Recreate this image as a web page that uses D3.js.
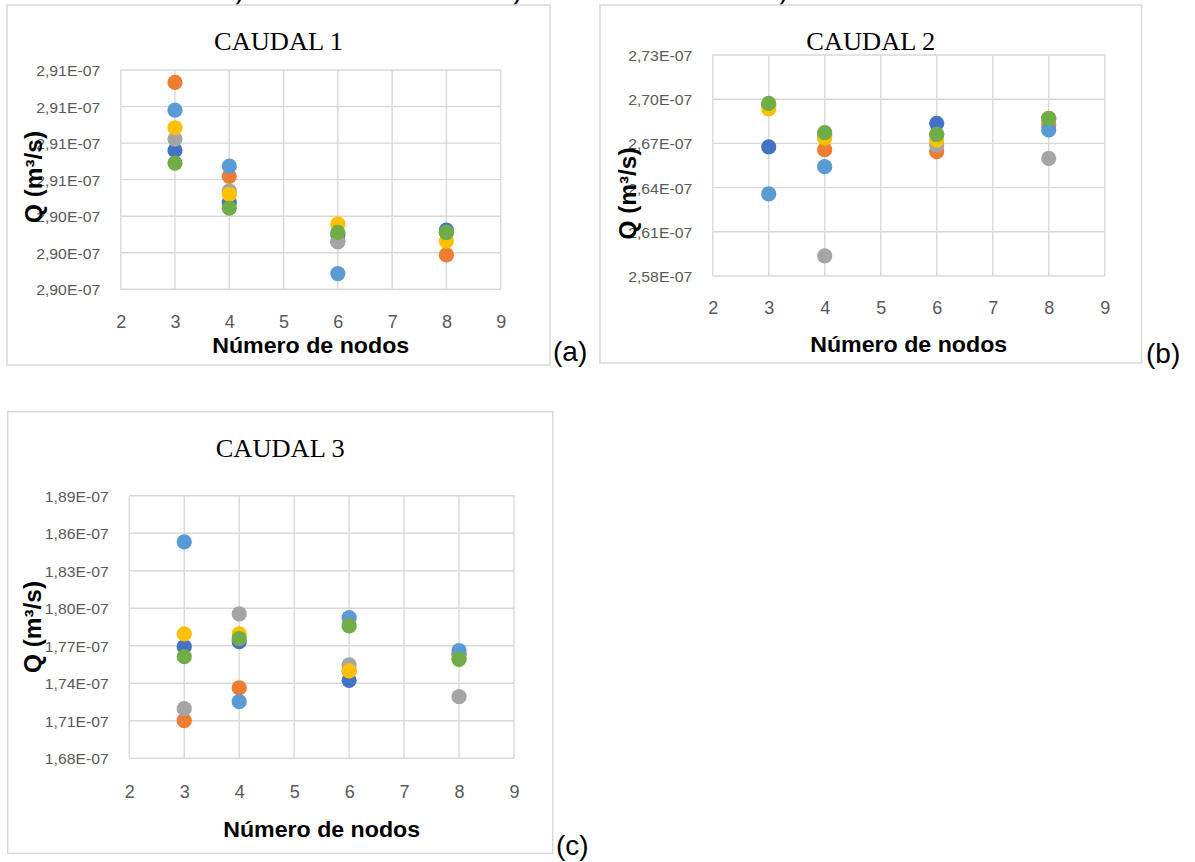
<!DOCTYPE html>
<html>
<head>
<meta charset="utf-8">
<script src="https://cdn.jsdelivr.net/npm/d3@7"></script>
<style>
  body { margin: 0; background: #fff; }
  svg { display: block; }
</style>
</head>
<body>
<div id="chart-container"></div>
<script>
// ---- data ----
const nodos = [3, 4, 6, 8];
const xTicks = [2, 3, 4, 5, 6, 7, 8, 9];
// Excel default series colours, in drawing order
const serieColores = ["#4472C4", "#ED7D31", "#A5A5A5", "#FFC000", "#5B9BD5", "#70AD47"];

// caudal 1 (m3/s), one row per series, one value per node count
const caudal1 = [
  [2.90580e-7, 2.90437e-7, 2.90349e-7, 2.90362e-7],
  [2.90766e-7, 2.90509e-7, 2.90331e-7, 2.90294e-7],
  [2.90611e-7, 2.90469e-7, 2.90330e-7, 2.90356e-7],
  [2.90642e-7, 2.90460e-7, 2.90379e-7, 2.90332e-7],
  [2.90690e-7, 2.90537e-7, 2.90243e-7, 2.90356e-7],
  [2.90545e-7, 2.90422e-7, 2.90356e-7, 2.90356e-7]
];
const caudal1Ticks = [2.902e-7, 2.903e-7, 2.904e-7, 2.905e-7, 2.906e-7, 2.907e-7, 2.908e-7];
const caudal1Labels = ["2,90E-07", "2,90E-07", "2,90E-07", "2,91E-07", "2,91E-07", "2,91E-07", "2,91E-07"];

// caudal 2
const caudal2 = [
  [2.6676e-7, 2.6757e-7, 2.6836e-7, 2.6868e-7],
  [2.6960e-7, 2.6657e-7, 2.6644e-7, 2.6825e-7],
  [2.6955e-7, 2.5936e-7, 2.6689e-7, 2.6599e-7],
  [2.6934e-7, 2.6735e-7, 2.6723e-7, 2.6869e-7],
  [2.6357e-7, 2.6542e-7, 2.6762e-7, 2.6791e-7],
  [2.6972e-7, 2.6773e-7, 2.6762e-7, 2.6870e-7]
];
const caudal2Ticks = [2.58e-7, 2.61e-7, 2.64e-7, 2.67e-7, 2.70e-7, 2.73e-7];
const caudal2Labels = ["2,58E-07", "2,61E-07", "2,64E-07", "2,67E-07", "2,70E-07", "2,73E-07"];

// caudal 3
const caudal3 = [
  [1.7692e-7, 1.7732e-7, 1.7423e-7, 1.7625e-7],
  [1.7100e-7, 1.7362e-7, 1.7498e-7, 1.7639e-7],
  [1.7196e-7, 1.7954e-7, 1.7546e-7, 1.7292e-7],
  [1.7794e-7, 1.7794e-7, 1.7498e-7, 1.7600e-7],
  [1.8530e-7, 1.7252e-7, 1.7924e-7, 1.7660e-7],
  [1.7612e-7, 1.7756e-7, 1.7858e-7, 1.7591e-7]
];
const caudal3Ticks = [1.68e-7, 1.71e-7, 1.74e-7, 1.77e-7, 1.80e-7, 1.83e-7, 1.86e-7, 1.89e-7];
const caudal3Labels = ["1,68E-07", "1,71E-07", "1,74E-07", "1,77E-07", "1,80E-07", "1,83E-07", "1,86E-07", "1,89E-07"];

// ---- layout ----
const panels = [
  { title: "CAUDAL 1", tag: "(a)", values: caudal1, ticks: caudal1Ticks, labels: caudal1Labels,
    box: [7, 5, 550, 365], plot: [120.7, 70, 500.7, 289.3],
    titleY: 50, xTickY: 322, xLabelY: 352.5, yLabel: [42, 177], tagPos: [553, 361] },
  { title: "CAUDAL 2", tag: "(b)", values: caudal2, ticks: caudal2Ticks, labels: caudal2Labels,
    box: [600, 5, 1141.5, 363], plot: [712.7, 55, 1104.7, 276],
    titleY: 50, xTickY: 308, xLabelY: 351.5, yLabel: [636, 193.5], tagPos: [1146, 363] },
  { title: "CAUDAL 3", tag: "(c)", values: caudal3, ticks: caudal3Ticks, labels: caudal3Labels,
    box: [7.7, 411.7, 552.7, 853.3], plot: [129.3, 495.7, 514, 758.2],
    titleY: 456.5, xTickY: 792, xLabelY: 836.5, yLabel: [41, 627], tagPos: [556, 855] }
];

const width = 1195, height = 862;
const gridColor = "#d9d9d9";
const sans = "'Liberation Sans', Arial, sans-serif";

var svg = d3.select("#chart-container")
  .append("svg")
  .attr("width", width)
  .attr("height", height);

// bits of a cut-off caption line above the charts
[235, 513, 779].forEach(px => {
  svg.append("text").attr("x", px).attr("y", -1)
    .style("font-family", sans).style("font-size", "28px").text(")");
});

function drawPanel(p) {
  const g = svg.append("g");
  const [bx0, by0, bx1, by1] = p.box;
  const [left, top, right, bottom] = p.plot;

  // chart frame
  g.append("rect")
    .attr("x", bx0).attr("y", by0)
    .attr("width", bx1 - bx0).attr("height", by1 - by0)
    .attr("fill", "#fff")
    .attr("stroke", gridColor).attr("stroke-width", 1.5);

  var x = d3.scaleLinear().domain([xTicks[0], xTicks[xTicks.length - 1]]).range([left, right]);
  var y = d3.scaleLinear().domain([p.ticks[0], p.ticks[p.ticks.length - 1]]).range([bottom, top]);

  // grid
  g.selectAll(".hgrid").data(p.ticks).enter().append("line")
    .attr("x1", left).attr("x2", right)
    .attr("y1", d => y(d)).attr("y2", d => y(d))
    .attr("stroke", gridColor).attr("stroke-width", 1.4);
  g.selectAll(".vgrid").data(xTicks).enter().append("line")
    .attr("x1", d => x(d)).attr("x2", d => x(d))
    .attr("y1", top).attr("y2", bottom)
    .attr("stroke", gridColor).attr("stroke-width", 1.4);

  // x axis labels
  const xa = g.append("g")
    .attr("transform", "translate(0," + bottom + ")")
    .call(d3.axisBottom(x).tickValues(xTicks).tickSize(0).tickFormat(d3.format("d")));
  xa.select(".domain").remove();
  xa.selectAll("text")
    .attr("y", p.xTickY - bottom).attr("dy", "0.36em")
    .style("font-family", sans).style("font-size", "18px").style("fill", "#595959");

  // y axis labels
  const ya = g.append("g")
    .attr("transform", "translate(" + left + ",0)")
    .call(d3.axisLeft(y).tickValues(p.ticks).tickSize(0).tickPadding(20.5)
      .tickFormat((d, i) => p.labels[i]));
  ya.select(".domain").remove();
  ya.selectAll("text")
    .attr("dy", "0.36em")
    .attr("textLength", 64).attr("lengthAdjust", "spacingAndGlyphs")
    .style("font-family", sans).style("font-size", "15.5px").style("fill", "#595959");

  // points, one series after the other
  p.values.forEach((serie, s) => {
    g.selectAll(".s" + s).data(serie).enter().append("circle")
      .attr("cx", (d, i) => x(nodos[i]))
      .attr("cy", d => y(d))
      .attr("r", 7.6)
      .attr("fill", serieColores[s]);
  });

  // title
  g.append("text")
    .attr("x", (bx0 + bx1) / 2).attr("y", p.titleY)
    .style("text-anchor", "middle")
    .style("font-family", "'Liberation Serif', 'Times New Roman', serif")
    .style("font-size", "26px")
    .attr("textLength", 129).attr("lengthAdjust", "spacingAndGlyphs")
    .text(p.title);

  // axis titles
  g.append("text")
    .attr("x", (left + right) / 2).attr("y", p.xLabelY)
    .style("text-anchor", "middle")
    .style("font-family", sans).style("font-weight", "bold").style("font-size", "22px")
    .attr("textLength", 197).attr("lengthAdjust", "spacingAndGlyphs")
    .text("Número de nodos");

  g.append("text")
    .attr("transform", "translate(" + p.yLabel[0] + "," + p.yLabel[1] + ")rotate(-90)")
    .style("text-anchor", "middle")
    .style("font-family", sans).style("font-weight", "bold").style("font-size", "23px")
    .attr("textLength", 92).attr("lengthAdjust", "spacingAndGlyphs")
    .text("Q (m³/s)");

  // panel tag
  g.append("text")
    .attr("x", p.tagPos[0]).attr("y", p.tagPos[1])
    .style("font-family", sans).style("font-size", "28px")
    .text(p.tag);
}

panels.forEach(drawPanel);
</script>
</body>
</html>
